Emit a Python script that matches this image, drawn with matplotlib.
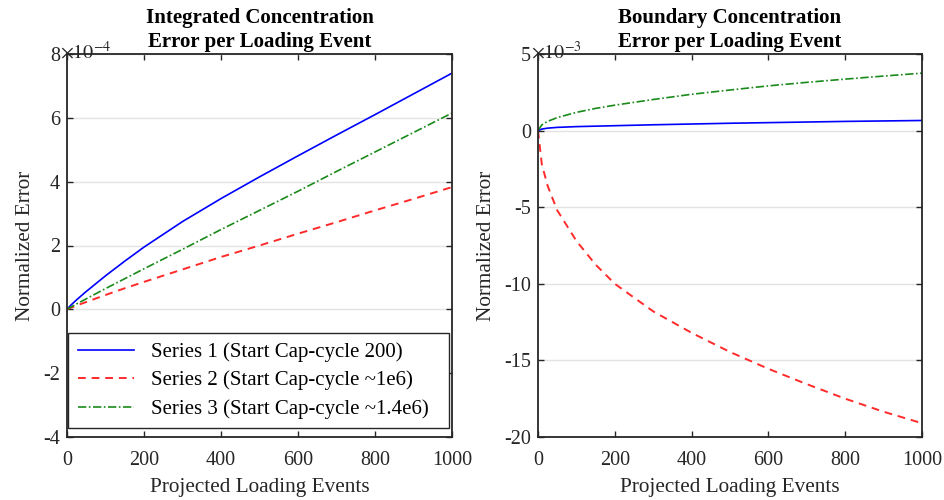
import numpy as np
import matplotlib
matplotlib.use("Agg")
import matplotlib.pyplot as plt

plt.rcParams['font.family'] = ['Liberation Serif', 'DejaVu Serif']
plt.rcParams['axes.unicode_minus'] = False
plt.rcParams['mathtext.fontset'] = 'stix'

# ---- data -----------------------------------------------------------------
events = [0, 10, 25, 50, 100, 150, 200, 300, 400, 500, 600, 700, 800, 900, 1000]

# integrated concentration error, units of 1e-4
integ_s1 = [0, 0.13, 0.3, 0.56, 1.05, 1.51, 1.95, 2.75, 3.47, 4.15, 4.81, 5.46, 6.1, 6.75, 7.4]
integ_s2 = [0, 0.05, 0.12, 0.23, 0.45, 0.66, 0.86, 1.25, 1.64, 2.0, 2.37, 2.73, 3.1, 3.46, 3.83]
integ_s3 = [0, 0.07, 0.17, 0.33, 0.65, 0.96, 1.27, 1.88, 2.5, 3.1, 3.7, 4.32, 4.93, 5.54, 6.15]

# boundary concentration error, units of 1e-3
bound_s1 = [0, 0.1, 0.16, 0.21, 0.26, 0.29, 0.32, 0.38, 0.43, 0.48, 0.52, 0.56, 0.6, 0.63, 0.66]
bound_s2 = [0, -2.2, -3.6, -5.2, -7.2, -8.75, -10.0, -11.8, -13.2, -14.45, -15.55, -16.55, -17.5, -18.35, -19.1]
bound_s3 = [0, 0.38, 0.6, 0.85, 1.19, 1.45, 1.66, 2.03, 2.37, 2.65, 2.92, 3.15, 3.36, 3.56, 3.75]

labels = ["Series 1 (Start Cap-cycle 200)",
          "Series 2 (Start Cap-cycle ~1e6)",
          "Series 3 (Start Cap-cycle ~1.4e6)"]

x_ticks = [0, 200, 400, 600, 800, 1000]
left_yticks = [-4, -2, 0, 2, 4, 6, 8]
right_yticks = [-20, -15, -10, -5, 0, 5]

# ---- styling ---------------------------------------------------------------
DARK = '#262626'
styles = [dict(color='#0000ff', linestyle='-', lw=1.2),
          dict(color='#ff2a2a', linestyle=(0, (4, 3)), lw=1.4),
          dict(color='#1a8a1a', linestyle=(0, (5, 1.5, 1, 1.5)), lw=1.2)]
TICK_FS = 14.5
LABEL_FS = 15.3
TITLE_FS = 15

fig = plt.figure(figsize=(9.45, 5.0), dpi=100)
ax1 = fig.add_axes([67 / 945, 1 - 437 / 500, 385 / 945, 383 / 500])
ax2 = fig.add_axes([538 / 945, 1 - 437 / 500, 384 / 945, 383 / 500])


def style_axes(ax, yticks, title, exp):
    ax.set_xlim(0, 1000)
    ax.set_ylim(yticks[0], yticks[-1])
    ax.set_xticks(x_ticks)
    ax.set_yticks(yticks)
    ax.set_yticklabels([str(t) for t in yticks])
    ax.yaxis.grid(True, color='#e3e3e3', lw=1.0)
    ax.set_axisbelow(True)
    ax.tick_params(direction='in', top=True, right=True, length=4,
                   width=1.0, color=DARK, labelcolor=DARK, labelsize=TICK_FS)
    ax.tick_params(axis='x', pad=10)
    ax.tick_params(axis='y', pad=5)
    for sp in ax.spines.values():
        sp.set_color(DARK)
        sp.set_linewidth(1.3)
    ax.set_xlabel("Projected Loading Events", fontsize=LABEL_FS, color=DARK, labelpad=6)
    ax.set_ylabel("Normalized Error", fontsize=LABEL_FS, color=DARK, labelpad=6)
    ax.set_title(title, fontsize=TITLE_FS, fontweight='bold', linespacing=1.25, pad=5)
    ax.text(-0.017, 1.005, r"$\times 10^{%d}$" % exp, transform=ax.transAxes,
            ha='left', va='center', fontsize=TICK_FS, color=DARK)


for ys, st, lab in zip([integ_s1, integ_s2, integ_s3], styles, labels):
    ax1.plot(events, ys, label=lab, **st)
for ys, st in zip([bound_s1, bound_s2, bound_s3], styles):
    ax2.plot(events, ys, **st)

style_axes(ax1, left_yticks, "Integrated Concentration\nError per Loading Event", -4)
style_axes(ax2, right_yticks, "Boundary Concentration\nError per Loading Event", -3)

leg = ax1.legend(loc='lower left', bbox_to_anchor=(0.003, 0.023, 0.99, 0.3),
                 mode='expand', borderaxespad=0, fontsize=15, handlelength=2.7,
                 handletextpad=0.85, labelspacing=0.42, fancybox=False,
                 framealpha=1, borderpad=0.45)
leg.get_frame().set_edgecolor(DARK)
leg.get_frame().set_linewidth(1.0)

fig.savefig("out.png", dpi=100)
